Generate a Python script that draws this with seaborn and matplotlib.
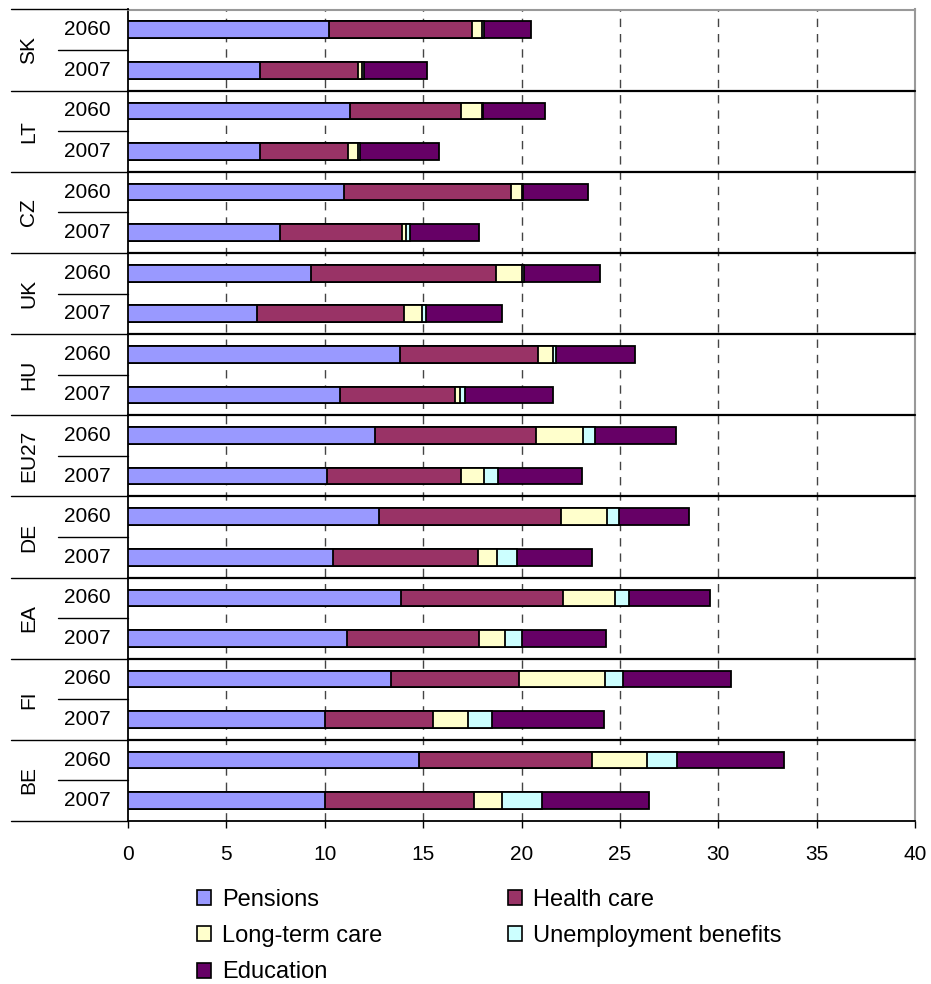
import matplotlib
matplotlib.use("Agg")
import matplotlib.pyplot as plt
import matplotlib.transforms as mtransforms
from matplotlib.patches import Patch
import numpy as np
import pandas as pd
import seaborn as sns

# Age-related public expenditure, % of GDP, by country and projection year
countries = ["SK", "LT", "CZ", "UK", "HU", "EU27", "DE", "EA", "FI", "BE"]
years = ["2060", "2007"]

pensions_2060 = [10.2, 11.3, 11.0, 9.3, 13.85, 12.55, 12.75, 13.9, 13.35, 14.8]
pensions_2007 = [6.7, 6.7, 7.75, 6.55, 10.8, 10.1, 10.4, 11.15, 10.0, 10.0]
health_2060 = [7.3, 5.6, 8.45, 9.4, 7.0, 8.2, 9.25, 8.2, 6.5, 8.8]
health_2007 = [5.0, 4.5, 6.2, 7.5, 5.8, 6.8, 7.4, 6.7, 5.5, 7.6]
ltc_2060 = [0.5, 1.1, 0.6, 1.3, 0.75, 2.4, 2.35, 2.65, 4.4, 2.8]
ltc_2007 = [0.2, 0.5, 0.2, 0.9, 0.25, 1.2, 0.95, 1.3, 1.8, 1.4]
unemp_2060 = [0.1, 0.05, 0.05, 0.15, 0.15, 0.6, 0.6, 0.7, 0.9, 1.5]
unemp_2007 = [0.1, 0.1, 0.2, 0.2, 0.3, 0.7, 1.0, 0.9, 1.2, 2.05]
edu_2060 = [2.4, 3.15, 3.3, 3.85, 4.0, 4.1, 3.55, 4.15, 5.5, 5.45]
edu_2007 = [3.2, 4.0, 3.5, 3.85, 4.45, 4.3, 3.85, 4.25, 5.7, 5.45]

components = ["Pensions", "Health care", "Long-term care",
              "Unemployment benefits", "Education"]
colors = ["#9999FF", "#993366", "#FFFFCC", "#CCFFFF", "#660066"]
x_ticks = [0, 5, 10, 15, 20, 25, 30, 35, 40]

series = {
    "Pensions": (pensions_2060, pensions_2007),
    "Health care": (health_2060, health_2007),
    "Long-term care": (ltc_2060, ltc_2007),
    "Unemployment benefits": (unemp_2060, unemp_2007),
    "Education": (edu_2060, edu_2007),
}

# Long table: one row per country/year bar
rows = []
for i, c in enumerate(countries):
    for j, y in enumerate(years):
        rec = {"bar": f"{c} {y}", "country": c, "year": y}
        for comp in components:
            rec[comp] = series[comp][j][i]
        rows.append(rec)
df = pd.DataFrame(rows)
order = list(df["bar"])

# cumulative ends of each stacked segment
cum = df[components].cumsum(axis=1)
for comp in components:
    df["end_" + comp] = cum[comp]

sns.set_theme(style="white")
plt.rcParams["font.family"] = ["Liberation Sans", "DejaVu Sans"]
plt.rcParams["text.color"] = "black"
plt.rcParams["xtick.color"] = "black"
plt.rcParams["axes.labelcolor"] = "black"

fig = plt.figure(figsize=(9.31, 9.84), dpi=100)
ax = fig.add_axes([128 / 931, 1 - 821 / 984, 787 / 931, (821 - 9.5) / 984])

# stacked bars: draw longest cumulative totals first, shorter ones on top
for comp, col in reversed(list(zip(components, colors))):
    sns.barplot(data=df, x="end_" + comp, y="bar", order=order, orient="h",
                color=col, saturation=1, width=0.41, errorbar=None,
                edgecolor="black", linewidth=1.3, ax=ax, zorder=3)

n = len(order)
ax.set_ylim(n - 0.5, -0.5)
ax.set_xlim(0, 40)
ax.set_xticks(x_ticks)
ax.set_xticklabels([str(t) for t in x_ticks], fontsize=15)
ax.set_yticks([])
ax.set_xlabel("")
ax.set_ylabel("")

# dashed vertical gridlines
for t in x_ticks[1:-1]:
    ax.axvline(t, color="#444444", lw=1.0, linestyle=(0, (6, 5)), zorder=1)

ax.tick_params(axis="x", direction="out", length=5, width=1, color="black",
               labelcolor="black", pad=12, bottom=True)

for side in ["top", "right"]:
    ax.spines[side].set_color("#999999")
    ax.spines[side].set_linewidth(1.5)
for side in ["bottom", "left"]:
    ax.spines[side].set_color("black")
    ax.spines[side].set_linewidth(1.3)

trans = mtransforms.blended_transform_factory(ax.transAxes, ax.transData)

# group separators across the plot and into the label area
for k in range(len(countries) + 1):
    yb = 2 * k - 0.5
    ax.plot([-0.149, 0], [yb, yb], color="black", lw=1.0, transform=trans,
            clip_on=False, zorder=4)
    if 0 < k < len(countries):
        ax.plot([0, 1], [yb, yb], color="black", lw=1.6, transform=trans,
                clip_on=False, zorder=4)

# year separators and labels
for i, c in enumerate(countries):
    ymid = 2 * i + 0.5
    ax.plot([-0.089, 0], [ymid, ymid], color="black", lw=1.0, transform=trans,
            clip_on=False, zorder=4)
    ax.text(-0.126, ymid, c, rotation=90, ha="center", va="center",
            fontsize=15, color="black", transform=trans)
    for j, y in enumerate(years):
        ax.text(-0.022, 2 * i + j, y, ha="right", va="center", fontsize=15,
                color="black", transform=trans)

# legend in two columns, row-wise order
handles = [Patch(facecolor=col, edgecolor="black", linewidth=1.2, label=comp)
           for comp, col in zip(components, colors)]
leg_kw = dict(frameon=False, fontsize=17, handlelength=0.6,
              handleheight=0.6, handletextpad=0.45, labelspacing=0.6,
              borderpad=0, borderaxespad=0, loc="upper left",
              labelcolor="black")
fig.legend(handles=[handles[0], handles[2], handles[4]],
           bbox_to_anchor=(197 / 931, 1 - 889 / 984), **leg_kw)
fig.legend(handles=[handles[1], handles[3]],
           bbox_to_anchor=(508 / 931, 1 - 889 / 984), **leg_kw)

fig.savefig("out.png", dpi=100)
